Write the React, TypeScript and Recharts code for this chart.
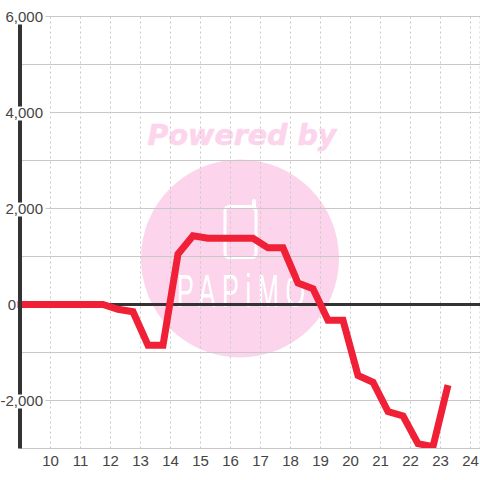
import React from "react";
import { LineChart, Line, XAxis, YAxis, CartesianGrid, ReferenceLine } from "recharts";

const xValues = [9, 9.25, 9.75, 10.25, 10.75, 11.25, 11.75, 12.25, 12.75, 13.25, 13.75, 14.25, 14.75, 15.25, 15.75, 16.25, 16.75, 17.25, 17.75, 18.25, 18.75, 19.25, 19.75, 20.25, 20.75, 21.25, 21.75, 22.25, 22.75, 23.25];
const yValues = [0, 0, 0, 0, 0, 0, 0, -100, -150, -850, -850, 1050, 1430, 1380, 1380, 1380, 1380, 1180, 1180, 450, 330, -330, -330, -1480, -1620, -2230, -2320, -2900, -2960, -1680];
const xTicks = [10, 11, 12, 13, 14, 15, 16, 17, 18, 19, 20, 21, 22, 23, 24];
const yTicks = [-3000, -2000, -1000, 0, 1000, 2000, 3000, 4000, 5000, 6000];
const yLabels: Record<number, string> = { [-2000]: "-2,000", 0: "0", 2000: "2,000", 4000: "4,000", 6000: "6,000" };
const data = xValues.map((x, i) => ({ x, y: yValues[i] }));

const FONT = "'Liberation Sans', Arial, sans-serif";
const PINK = "#fcd5ec";
const RED = "#f02036";

const YTick = (props: any) => {
  const v = props.payload.value;
  const label = yLabels[v];
  if (label === undefined) return <g />;
  if (v === 0) {
    return <text x={16} y={props.y + 5.5} textAnchor="end" fontSize={15} fontFamily={FONT} fill="#444">{label}</text>;
  }
  const right = v === 4000 ? 50 : 45.5;
  return (
    <g>
      <rect x={2} y={props.y - 6} width={right - 2} height={14} fill="#fff" />
      <text x={43} y={props.y + 5.5} textAnchor="end" fontSize={15} fontFamily={FONT} fill="#444">{label}</text>
    </g>
  );
};

const XTick = (props: any) => (
  <text x={props.x} y={466} textAnchor="middle" fontSize={15} fontFamily={FONT} fill="#444">{props.payload.value}</text>
);

export default function App() {
  return (
    <div style={{ position: "absolute", left: 0, top: 0, width: 480, height: 480, background: "#fff" }}>
      <svg width={480} height={480} style={{ position: "absolute", left: 0, top: 0 }}>
        <text x={242} y={145} textAnchor="middle" fontSize={28.5} fontWeight="bold" fontStyle="italic" fontFamily="'DejaVu Sans', sans-serif" fill={PINK} stroke={PINK} strokeWidth={0.6}>Powered by</text>
        <circle cx={240} cy={258.5} r={99} fill={PINK} />
        <rect x={225} y={206.5} width={31} height={51} rx={4} fill="none" stroke="#fff" strokeWidth={3} />
        <line x1={254} y1={201} x2={254} y2={208} stroke="#fff" strokeWidth={4} strokeLinecap="round" />
        <text transform="translate(177,307) scale(0.55,1)" fontSize={46} letterSpacing={12} fontFamily={FONT} fill="#fff">PAPiMO</text>
      </svg>
      <div style={{ position: "absolute", left: 0, top: 0 }}>
        <LineChart width={480} height={480} data={data} margin={{ top: 16.5, right: 0, bottom: 0, left: 0 }}>
          <CartesianGrid stroke="#c8c8c8" horizontal={false} strokeDasharray="2 3" />
          <CartesianGrid stroke="#c8c8c8" vertical={false} />
          <XAxis dataKey="x" type="number" domain={[8.9833, 24.3167]} ticks={xTicks} allowDataOverflow interval={0} height={31.5} axisLine={{ stroke: "#c8c8c8" }} tickLine={false} tick={<XTick />} />
          <YAxis type="number" domain={[-3000, 6000]} ticks={yTicks} allowDataOverflow interval={0} width={20} axisLine={{ stroke: "#333", strokeWidth: 4 }} tickLine={false} tick={<YTick />} />
          <ReferenceLine y={0} stroke="#333" strokeWidth={3} />
          <ReferenceLine segment={[{ x: 8.9, y: 0 }, { x: 9, y: 0 }]} ifOverflow="visible" stroke={RED} strokeWidth={7} />
          <Line dataKey="y" type="linear" stroke={RED} strokeWidth={7} strokeLinejoin="miter" strokeLinecap="butt" dot={false} isAnimationActive={false} />
        </LineChart>
      </div>
    </div>
  );
}
